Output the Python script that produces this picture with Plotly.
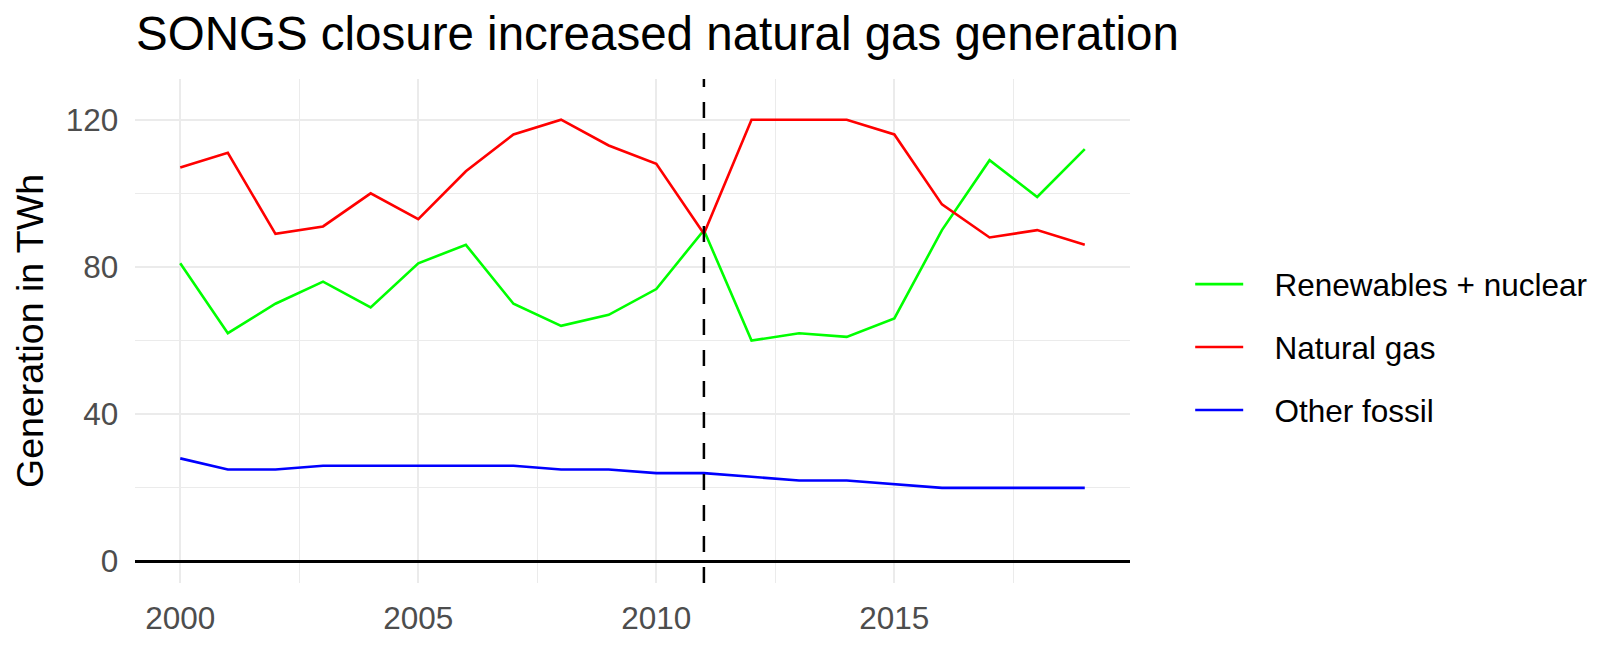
import plotly.graph_objects as go

years = list(range(2000, 2020))
renewables_nuclear = [81, 62, 70, 76, 69, 81, 86, 70, 64, 67, 74, 90, 60, 62, 61, 66, 90, 109, 99, 112]
natural_gas = [107, 111, 89, 91, 100, 93, 106, 116, 120, 113, 108, 89, 120, 120, 120, 116, 97, 88, 90, 86]
other_fossil = [28, 25, 25, 26, 26, 26, 26, 26, 25, 25, 24, 24, 23, 22, 22, 21, 20, 20, 20, 20]

series_names = ["Renewables + nuclear", "Natural gas", "Other fossil"]
series_values = [renewables_nuclear, natural_gas, other_fossil]
series_colors = ["#00ff00", "#ff0000", "#0000ff"]

closure_year = 2011
x_ticks = [2000, 2005, 2010, 2015]
y_ticks = [0, 40, 80, 120]

FONT = "Liberation Sans, Arial, Helvetica, sans-serif"
GAP = "\u00a0\u00a0\u00a0"

fig = go.Figure()
for name, vals, col in zip(series_names, series_values, series_colors):
    fig.add_trace(go.Scatter(
        x=years, y=vals, mode="lines", name=GAP + name, legendgroup=name,
        line=dict(color=col, width=2.6),
    ))

fig.add_vline(x=closure_year, line=dict(color="black", width=2.5, dash="16px,15px"), layer="above")

fig.update_layout(
    width=1620, height=653,
    margin=dict(l=135, r=490, t=79, b=70),
    paper_bgcolor="white", plot_bgcolor="white",
    font=dict(family=FONT, color="black"),
    title=dict(
        text="SONGS closure increased natural gas generation",
        font=dict(size=47.5, color="black", family=FONT),
        xref="container", x=136 / 1620, xanchor="left",
        yref="container", y=1 - 33.5 / 653, yanchor="middle",
    ),
    showlegend=True,
    legend=dict(
        x=1.0605, xanchor="left", y=0.468, yanchor="middle",
        font=dict(size=31.5, color="black", family=FONT),
        traceorder="grouped", tracegroupgap=19,
        itemwidth=48, bgcolor="rgba(0,0,0,0)",
    ),
    xaxis=dict(
        range=[1999.05, 2019.95], tickmode="array", tickvals=x_ticks,
        showgrid=True, gridcolor="#ebebeb", gridwidth=2.2,
        minor=dict(tickmode="array", tickvals=[2002.5, 2007.5, 2012.5, 2017.5],
                   showgrid=True, gridcolor="#ebebeb", gridwidth=1.1),
        zeroline=False, showline=False,
        ticks="outside", ticklen=7, tickcolor="rgba(0,0,0,0)",
        tickfont=dict(size=31.5, color="#4d4d4d", family=FONT),
    ),
    yaxis=dict(
        range=[-5.85, 131.05], tickmode="array", tickvals=y_ticks,
        showgrid=True, gridcolor="#ebebeb", gridwidth=2.2,
        minor=dict(tickmode="array", tickvals=[20, 60, 100],
                   showgrid=True, gridcolor="#ebebeb", gridwidth=1.1),
        zeroline=True, zerolinecolor="black", zerolinewidth=2.5,
        showline=False,
        ticks="outside", ticklen=9.5, tickcolor="rgba(0,0,0,0)",
        tickfont=dict(size=31.5, color="#4d4d4d", family=FONT),
        title=dict(text="Generation in TWh", font=dict(size=37.5, color="black", family=FONT), standoff=10),
    ),
)

fig.write_html("out.html", config={"displayModeBar": False},
               post_script="document.body.style.margin='0';")
